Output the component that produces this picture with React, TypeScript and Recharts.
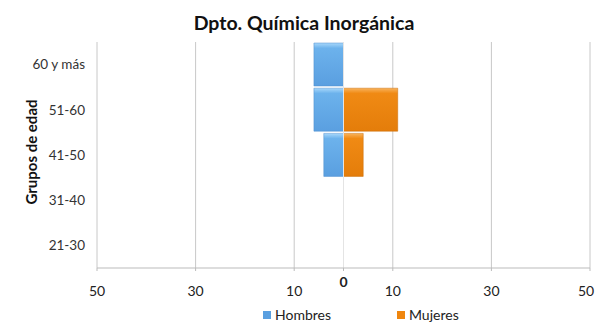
import React from 'react';
import { BarChart, Bar, XAxis, YAxis, CartesianGrid, ReferenceLine } from 'recharts';

const categories = ['21-30', '31-40', '41-50', '51-60', '60 y más'];
const hombres = [0, 0, -4, -6, -6];
const mujeres = [0, 0, 4, 11, 0];
const xTicks = [-50, -30, -10, 0, 10, 30, 50];

const data = categories.map((c, i) => ({ grupo: c, Hombres: hombres[i], Mujeres: mujeres[i] }));

const FONT = 'Lato, "Open Sans", sans-serif';

const XTick = (props: any) => {
  const { x, y, payload } = props;
  const isZero = payload.value === 0;
  const tx = Math.min(x, 586);
  return (
    <text x={tx} y={isZero ? y + 14 : y + 23} textAnchor="middle" fontSize={14} fill="#222" fontFamily={FONT} fontWeight={isZero ? 700 : 400}>
      {Math.abs(payload.value)}
    </text>
  );
};

export default function App() {
  return (
    <div style={{ position: 'absolute', left: 0, top: 0, width: 595, height: 323, background: '#fff', fontFamily: FONT, overflow: 'hidden' }}>
      <div style={{ position: 'absolute', left: 104, top: 11, width: 400, textAlign: 'center', fontSize: 19.5, fontWeight: 700, color: '#111', lineHeight: '24px' }}>
        Dpto. Química Inorgánica
      </div>
      <div style={{ position: 'absolute', left: 31, top: 152, transform: 'translate(-50%, -50%) rotate(-90deg)', fontSize: 15, fontWeight: 700, color: '#111', whiteSpace: 'nowrap' }}>
        Grupos de edad
      </div>
      <div style={{ position: 'absolute', left: 0, top: 0 }}>
        <BarChart
          width={595}
          height={323}
          data={data}
          layout="vertical"
          stackOffset="sign"
          barCategoryGap={1}
          margin={{ top: 42, right: 5, bottom: 25, left: 0 }}
        >
          <defs>
            <linearGradient id="gBlue" x1="0" y1="0" x2="0" y2="1">
              <stop offset="0" stopColor="#a8d8fb" />
              <stop offset="0.12" stopColor="#6cb2ec" />
              <stop offset="1" stopColor="#5a9fe0" />
            </linearGradient>
            <linearGradient id="gOrange" x1="0" y1="0" x2="0" y2="1">
              <stop offset="0" stopColor="#f9b35c" />
              <stop offset="0.12" stopColor="#f08a14" />
              <stop offset="1" stopColor="#e47d0a" />
            </linearGradient>
          </defs>
          <CartesianGrid horizontal={false} stroke="#c8c8c8" verticalValues={[-50, -30, -10, 10, 30, 50]} />
          <XAxis
            type="number"
            domain={[-50, 50]}
            ticks={xTicks}
            tick={<XTick />}
            tickLine={{ stroke: '#bbb' }}
            axisLine={{ stroke: '#bbb' }}
            tickSize={3}
            height={30}
            interval={0}
          />
          <YAxis
            type="category"
            dataKey="grupo"
            reversed
            width={97}
            axisLine={false}
            tickLine={false}
            tickSize={0}
            tickMargin={12}
            tick={{ fontSize: 13.5, fill: '#333', fontFamily: FONT }}
          />
          <ReferenceLine x={0} stroke="#e4e4e4" />
          <Bar dataKey="Hombres" stackId="a" fill="url(#gBlue)" stroke="#4f8fcf" strokeWidth={0.5} isAnimationActive={false} />
          <Bar dataKey="Mujeres" stackId="a" fill="url(#gOrange)" stroke="#c96d08" strokeWidth={0.5} isAnimationActive={false} />
        </BarChart>
      </div>
      <div style={{ position: 'absolute', left: 263, top: 307, display: 'flex', alignItems: 'center', fontSize: 14, lineHeight: '16px', color: '#222' }}>
        <span style={{ display: 'inline-block', width: 8, height: 8, background: '#5a9fe0', marginRight: 4 }} />
        <span>Hombres</span>
      </div>
      <div style={{ position: 'absolute', left: 397, top: 307, display: 'flex', alignItems: 'center', fontSize: 14, lineHeight: '16px', color: '#222' }}>
        <span style={{ display: 'inline-block', width: 8, height: 8, background: '#ef860e', marginRight: 4 }} />
        <span>Mujeres</span>
      </div>
    </div>
  );
}
